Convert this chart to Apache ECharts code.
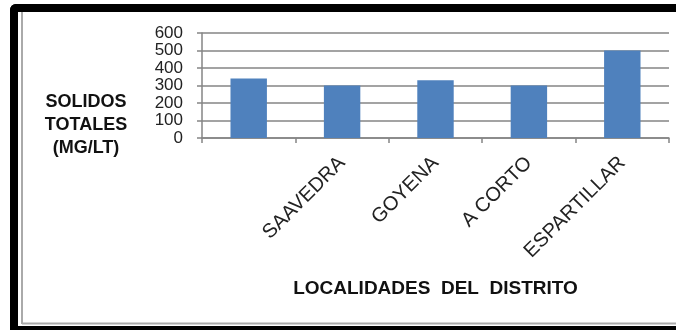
<!DOCTYPE html>
<html><head><meta charset="utf-8">
<script src="https://cdn.jsdelivr.net/npm/echarts@6/dist/echarts.min.js"></script>
<style>html,body{margin:0;padding:0;background:#fff}#c{width:676px;height:330px}</style>
</head><body><div id="c"></div>
<script>
const categories = ["", "SAAVEDRA", "GOYENA", "A CORTO", "ESPARTILLAR"];
const solidosTotales = [340, 300, 330, 300, 500];
const yTicks = {min: 0, max: 600, interval: 100};
const yTitle = "SOLIDOS\nTOTALES\n(MG/LT)";
const xTitle = "LOCALIDADES  DEL  DISTRITO";

const chart = echarts.init(document.getElementById('c'), null, {renderer: 'canvas'});
const FONT = "'Liberation Sans', Arial, sans-serif";
chart.setOption({
  animation: false,
  backgroundColor: '#fff',
  grid: {left: 202, right: 7, top: 33, bottom: 192, containLabel: false},
  xAxis: {
    type: 'category', data: categories,
    axisLine: {lineStyle: {color: '#858585', width: 1.5}},
    axisTick: {show: true, length: 5, alignWithLabel: false, lineStyle: {color: '#858585', width: 1.5}},
    axisLabel: {rotate: 45, interval: 0, margin: 22, fontSize: 20, color: '#222', fontFamily: FONT},
    name: xTitle, nameLocation: 'middle', nameGap: 141,
    nameTextStyle: {fontSize: 19, fontWeight: 'bold', color: '#111', fontFamily: FONT}
  },
  yAxis: {
    type: 'value', min: yTicks.min, max: yTicks.max, interval: yTicks.interval,
    axisLine: {show: true, lineStyle: {color: '#858585', width: 1.5}},
    axisTick: {show: true, length: 5, lineStyle: {color: '#858585', width: 1.5}},
    splitLine: {lineStyle: {color: '#858585', width: 1.5}},
    axisLabel: {fontSize: 17, color: '#222', margin: 19, fontFamily: FONT,
      showMinLabel: true, showMaxLabel: true, hideOverlap: false}
  },
  series: [{
    type: 'bar', data: solidosTotales, barWidth: '39%',
    itemStyle: {color: '#4f81bd'}
  }],
  graphic: [
    {type: 'rect', shape: {x: 10, y: 4, width: 700, height: 8, r: [6, 0, 0, 0]}, style: {fill: '#000'}},
    {type: 'rect', shape: {x: 10, y: 4, width: 8, height: 330, r: [6, 0, 0, 0]}, style: {fill: '#000'}},
    {type: 'rect', shape: {x: 10, y: 326, width: 700, height: 8}, style: {fill: '#000'}},
    {type: 'line', shape: {x1: 22, y1: 12, x2: 22, y2: 324}, style: {stroke: '#aaa', lineWidth: 2}},
    {type: 'line', shape: {x1: 22, y1: 323.5, x2: 676, y2: 323.5}, style: {stroke: '#aaa', lineWidth: 2}},
    {type: 'text', x: 86, y: 125, style: {text: yTitle, x: 0, y: 0, align: 'center', verticalAlign: 'middle', font: "bold 18px " + FONT, lineHeight: 23, fill: '#111'}}
  ]
});
</script></body></html>
